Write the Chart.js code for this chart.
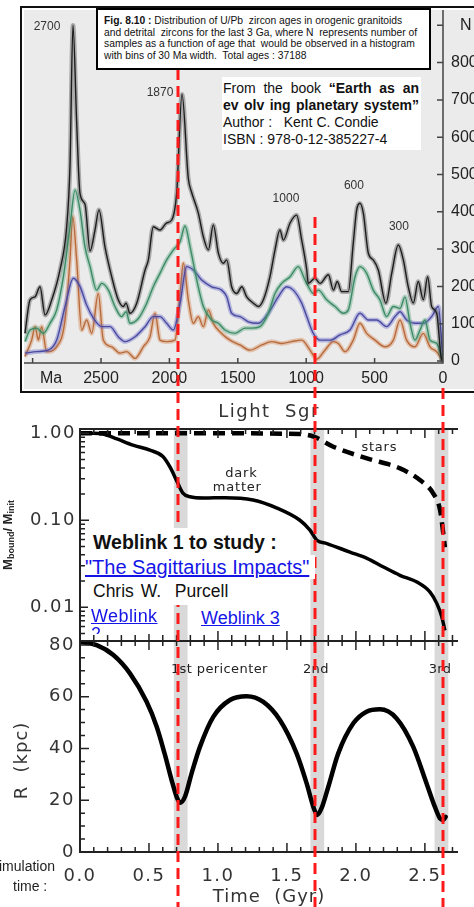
<!DOCTYPE html>
<html><head><meta charset="utf-8">
<script src="https://cdn.jsdelivr.net/npm/chart.js@4.4.1/dist/chart.umd.min.js"></script>
<style>
html,body{margin:0;padding:0;background:#fff;}
body{width:474px;height:907px;overflow:hidden;position:relative;font-family:"Liberation Sans",Arial,sans-serif;}
.a{position:absolute;}
#frame{left:20px;top:6px;width:470px;height:383px;border:2px solid #111;background:#ebebeb;box-shadow:inset 0 0 0 2px #fff;z-index:1;}
#c1{position:absolute;left:0;top:0;}
#c2{left:0;top:395px;z-index:2;}
#c3{left:0;top:628px;z-index:2;}
#ov{left:0;top:0;z-index:5;pointer-events:none;}
#caption{left:96px;top:8px;width:335px;height:62px;box-sizing:border-box;border:2px solid #000;background:#fff;z-index:10;
  font-size:10.3px;line-height:11.5px;color:#111;padding:5px 0 0 6px;white-space:nowrap;overflow:hidden;}
#book{left:222px;top:77px;width:199px;height:73px;background:#fff;z-index:10;font-size:14px;line-height:17px;color:#111;padding:3px 2px 0 1px;box-sizing:border-box;}
#book .j{text-align:justify;text-align-last:justify;white-space:nowrap;}
.wb{background:#fff;z-index:10;white-space:nowrap;box-sizing:border-box;}
.lnk{color:#1515e8;text-decoration:underline;}
#ytitle{left:-42px;top:527px;width:100px;height:16px;transform:rotate(-90deg);text-align:center;font-weight:bold;font-size:13px;line-height:16px;color:#222;z-index:10;white-space:nowrap;}
#ytitle sub{font-size:9px;vertical-align:-2px;}
.sim{font-size:14px;line-height:20px;color:#222;z-index:10;white-space:nowrap;}
</style></head><body>

<div id="frame" class="a"><canvas id="c1" width="452" height="383"></canvas></div>
<canvas id="c2" class="a" width="474" height="245"></canvas>
<canvas id="c3" class="a" width="474" height="279"></canvas>
<canvas id="ov" class="a" width="474" height="907"></canvas>

<div id="caption" class="a"><b>Fig. 8.10 :</b> Distribution of U/Pb&nbsp; zircon ages in orogenic granitoids<br>and detrital&nbsp; zircons for the last 3 Ga, where N&nbsp; represents number of<br>samples as a function of age that&nbsp; would be observed in a histogram<br>with bins of 30 Ma width.&nbsp; Total ages : 37188</div>

<div id="book" class="a">
  <div class="j">From the book <b>“Earth as an</b></div>
  <div class="j"><b>ev olv ing planetary system”</b></div>
  <div>Author :&nbsp;&nbsp; Kent C. Condie</div>
  <div>ISBN : 978-0-12-385227-4</div>
</div>

<div class="a wb" style="left:85px;top:528px;width:205px;height:27px;padding-left:8px;font-weight:bold;font-size:19.5px;line-height:29px;color:#111;">Weblink 1 to study :</div>
<div class="a wb lnk" style="left:85px;top:555px;width:230px;height:24px;font-size:20px;line-height:24px;letter-spacing:0px;">"The Sagittarius Impacts"</div>
<div class="a wb" style="left:85px;top:579px;width:200px;height:26px;padding-left:8px;font-size:17.5px;line-height:24px;color:#111;word-spacing:2px;">Chris W.&nbsp; Purcell</div>
<div class="a wb lnk" style="left:88px;top:605px;width:76px;height:29px;overflow:hidden;white-space:normal;padding:2px 0 0 3px;font-size:18px;line-height:18px;letter-spacing:0.4px;">Weblink 2</div>
<div class="a wb lnk" style="left:198px;top:605px;width:88px;height:25px;padding:2px 0 0 3px;font-size:18px;line-height:22px;">Weblink 3</div>

<div id="ytitle" class="a">M<sub>bound</sub>/ M<sub>init</sub></div>
<div class="a sim" style="right:419px;top:856px;">Simulation</div>
<div class="a sim" style="left:13px;top:876px;">time :</div>

<script>
// ===== Top panel: U/Pb zircon age distribution (age in Ma, N) =====
const totalAges = [3056,3019,2982,2946,2909,2860,2800,2751,2727,2705,2678,2654,2617,2580,2544,2515,2471,2422,2374,2337,2317,2288,2239,2178,2154,2118,2069,2020,1983,1947,1908,1862,1840,1789,1752,1715,1679,1642,1606,1581,1545,1508,1471,1435,1386,1350,1313,1265,1228,1192,1167,1118,1070,1033,996,985,936,899,838,801,773,741,692,656,631,607,582,546,510,473,417,375,327,290,254,217,181,144,112,83,46,10,0];
const totalN    = [74,164,172,199,123,164,244,360,520,900,640,450,420,295,351,405,306,226,164,146,155,128,155,244,271,360,351,370,378,450,715,490,455,397,333,298,365,289,262,271,199,181,199,172,155,146,164,226,298,351,324,370,391,324,244,208,222,208,231,190,213,186,186,316,405,423,396,289,271,244,155,235,311,271,199,155,213,164,226,146,128,3,0];

const greenAges = [3056,3019,2970,2922,2873,2824,2775,2727,2690,2654,2617,2580,2532,2495,2446,2398,2349,2317,2288,2227,2166,2118,2069,2020,1971,1922,1886,1849,1800,1752,1691,1642,1594,1520,1447,1398,1338,1277,1228,1179,1118,1058,1009,985,948,911,850,789,729,692,643,607,558,510,461,412,363,314,278,241,205,168,132,95,46,0];
const greenN    = [52,83,88,74,101,137,226,360,458,405,306,253,190,208,190,146,119,132,101,114,155,199,235,271,298,320,362,306,217,146,110,101,83,74,88,88,92,128,181,208,226,253,217,200,181,190,164,146,128,137,226,253,235,190,164,119,146,141,172,101,56,83,110,56,47,0];

const blueAges = [3056,2970,2885,2824,2763,2702,2654,2605,2556,2495,2434,2374,2325,2251,2178,2118,2069,2020,1971,1922,1874,1825,1764,1691,1618,1581,1545,1484,1423,1350,1277,1204,1143,1094,1033,996,948,899,826,753,680,607,546,485,412,351,314,266,205,144,83,34,0];
const blueN    = [21,25,29,56,146,222,200,150,115,92,92,65,52,65,92,119,119,101,83,155,253,244,217,199,190,172,128,119,105,101,128,172,199,190,155,119,74,56,56,70,83,128,110,110,92,119,132,110,101,101,119,146,0];

const orangeAges = [3056,3007,2982,2958,2934,2897,2824,2763,2727,2707,2678,2641,2605,2568,2520,2483,2422,2361,2313,2251,2191,2142,2105,2069,2020,1959,1922,1898,1862,1825,1789,1752,1715,1679,1618,1557,1484,1411,1325,1252,1179,1106,1033,972,923,863,801,765,716,656,607,558,497,424,363,314,266,205,144,95,46,0];
const orangeN    = [12,56,92,56,92,25,38,110,271,387,271,83,110,74,181,56,38,21,25,7,38,65,128,56,52,56,181,262,164,101,119,92,137,101,74,56,43,29,43,52,47,52,56,29,5,29,52,47,25,56,101,74,56,38,56,110,56,38,74,38,25,0];

const ageTicks = [3000,2500,2000,1500,1000,500,0];
const nTicks = [0,100,200,300,400,500,600,700,800,900];
const peakLabelText = ['2700','1870','1000','600','300'];
const peakLabelAge  = [2895,2069,1148,651,322];
const peakLabelN    = [895,718,434,469,359];

// ===== Lower panels: Sagittarius simulation (time in Gyr) =====
const dmTime = [0,0.10,0.167,0.268,0.384,0.507,0.601,0.652,0.703,0.746,0.797,0.90,1.05,1.254,1.428,1.594,1.667,1.717,1.79,1.957,2.08,2.196,2.319,2.442,2.536,2.587,2.623,2.645];
const dmMass = [1.0,1.0,0.98,0.86,0.73,0.64,0.54,0.41,0.28,0.205,0.186,0.18,0.182,0.171,0.138,0.10,0.077,0.059,0.054,0.043,0.0365,0.0292,0.0233,0.0195,0.015,0.011,0.0077,0.0054];
const starTime = [0,0.5,1.0,1.594,1.70,1.836,2.08,2.32,2.464,2.56,2.61,2.633,2.645];
const starMass = [1.0,1.0,1.0,0.98,0.91,0.70,0.515,0.395,0.29,0.204,0.131,0.071,0.049];
const orbitTime = [0,0.121,0.242,0.362,0.483,0.556,0.616,0.664,0.70,0.725,0.761,0.809,0.870,0.966,1.087,1.208,1.329,1.449,1.570,1.643,1.691,1.720,1.751,1.80,1.872,1.981,2.077,2.174,2.295,2.415,2.512,2.572,2.609,2.633,2.65];
const orbitR    = [81.2,79.9,76.1,69.0,58.0,48.4,37.5,27.8,21.4,19.0,21.4,30.4,40.7,52.2,58.7,60.2,58.0,51.0,38.1,26.5,17.5,14.3,16.9,25.2,38.1,49.7,54.2,55.1,51.6,40.7,26.5,17.5,13.0,12.4,13.6];
const pericenterBands = [[0.68,0.78],[1.67,1.77],[2.57,2.67]];
const pericenterTimes = [0.71,1.70,2.63];
const pericenterLabels = ['1st pericenter','2nd','3rd'];
const pericenterLabelT = [1.01,1.71,2.61];
const timeTicks = [0,0.5,1.0,1.5,2.0,2.5];
const massTicks = [1,0.1,0.01];
const radiusTicks = [0,20,40,60,80];

const zip = (xs, ys) => xs.map((x, i) => ({x, y: ys[i]}));
Chart.defaults.font.family = '"DejaVu Sans", sans-serif';
const zeroPad = s => { s.paddingLeft = 0; s.paddingRight = 0; s.paddingTop = 0; s.paddingBottom = 0; };
const base = {responsive:false, animation:false, events:[], devicePixelRatio:1,
  plugins:{legend:{display:false}, tooltip:{enabled:false}}};

// ---------- top chart ----------
function ageSeries(ages, vals, core, band){
  const d = zip(ages, vals);
  return [
    {data:d, borderColor:core, borderWidth:1.4, pointRadius:0, cubicInterpolationMode:'monotone', fill:false},
    {data:d, borderColor:band, borderWidth:4.6, pointRadius:0, cubicInterpolationMode:'monotone', fill:false}
  ];
}
const topDecor = {
  id:'topDecor',
  afterDraw(chart){
    const {ctx, chartArea:a, scales:{x, y}} = chart;
    ctx.save();
    ctx.strokeStyle = '#444'; ctx.lineWidth = 1.5;
    ctx.beginPath();
    ctx.moveTo(a.left, a.bottom); ctx.lineTo(a.right, a.bottom);
    ctx.moveTo(a.right, a.top); ctx.lineTo(a.right, a.bottom + 0.75);
    ageTicks.forEach(v => { const p = x.getPixelForValue(v); ctx.moveTo(p, a.bottom); ctx.lineTo(p, a.bottom - 5); });
    nTicks.forEach(v => { const p = y.getPixelForValue(v); ctx.moveTo(a.right, p); ctx.lineTo(a.right - 6, p); });
    ctx.stroke();
    ctx.fillStyle = '#333'; ctx.font = '12px "Liberation Sans", Arial';
    ctx.textAlign = 'center'; ctx.textBaseline = 'middle';
    peakLabelText.forEach((t, i) => ctx.fillText(t, x.getPixelForValue(peakLabelAge[i]), y.getPixelForValue(peakLabelN[i])));
    ctx.font = '16px "Liberation Sans", Arial'; ctx.fillStyle = '#222';
    ctx.fillText('Ma', x.getPixelForValue(2865), a.bottom + 16);
    ctx.restore();
  }
};
new Chart(document.getElementById('c1'), {
  type:'line',
  data:{datasets:[
    ...ageSeries(totalAges, totalN, '#1c1c1c', 'rgba(40,40,40,0.33)'),
    ...ageSeries(greenAges, greenN, '#3d8a66', 'rgba(80,160,120,0.38)'),
    ...ageSeries(blueAges, blueN, '#4a4aa0', 'rgba(100,100,200,0.38)'),
    ...ageSeries(orangeAges, orangeN, '#b86a3a', 'rgba(210,130,80,0.38)')
  ]},
  options:{...base,
    layout:{padding:{left:2, top:2, right:0, bottom:0}},
    scales:{
      x:{type:'linear', reverse:true, min:0, max:3063,
        grid:{display:false, drawTicks:false}, border:{display:false},
        afterBuildTicks: s => { s.ticks = ageTicks.map(v => ({value:v})); },
        afterFit: s => { s.height = 28; zeroPad(s); },
        ticks:{autoSkip:false, maxRotation:0, padding:6, color:'#222',
          font:{family:'"Liberation Sans", Arial', size:16},
          callback: v => v === 3000 ? '' : String(v)}},
      y:{type:'linear', position:'right', min:-5.4, max:941,
        grid:{display:false, drawTicks:false}, border:{display:false},
        afterBuildTicks: s => { s.ticks = nTicks.map(v => ({value:v})); },
        afterFit: s => { s.width = 31; zeroPad(s); },
        ticks:{autoSkip:false, padding:8, color:'#222',
          font:{family:'"Liberation Sans", Arial', size:16},
          callback: v => v === 900 ? '  N' : String(v)}}
    }},
  plugins:[topDecor]
});

// ---------- lower charts ----------
function sgrDecor(kind){
  return {
    id:'sgrDecor',
    beforeDraw(chart){ chart.ctx.letterSpacing = '1.5px'; },
    beforeDatasetsDraw(chart){
      const {ctx, chartArea:a, scales:{x}} = chart;
      ctx.save(); ctx.fillStyle = '#d9d9d9';
      pericenterBands.forEach(b => { const l = x.getPixelForValue(b[0]), r = x.getPixelForValue(b[1]); ctx.fillRect(l, a.top, r - l, a.bottom - a.top); });
      ctx.restore();
    },
    afterDraw(chart){
      const {ctx, chartArea:a, scales:{x, y}} = chart;
      ctx.save();
      ctx.strokeStyle = '#222'; ctx.lineWidth = 2;
      ctx.beginPath();
      ctx.moveTo(a.right, a.top); ctx.lineTo(a.left, a.top); ctx.lineTo(a.left, a.bottom);
      if (kind === 'radius') ctx.lineTo(a.right, a.bottom);
      ctx.stroke();
      ctx.lineWidth = 1.5; ctx.beginPath();
      for (let k = 0; k <= 27; k++) {
        const p = x.getPixelForValue(k / 10), len = k % 5 === 0 ? 9 : 5;
        ctx.moveTo(p, a.top); ctx.lineTo(p, a.top + len);
        ctx.moveTo(p, a.bottom); ctx.lineTo(p, a.bottom - len);
      }
      if (kind === 'mass') {
        for (let d = -3; d <= 0; d++) for (let m = 1; m <= 9; m++) {
          const v = m * Math.pow(10, d);
          if (v < y.min || v > y.max) continue;
          const p = y.getPixelForValue(v), len = m === 1 ? 9 : 5;
          ctx.moveTo(a.left, p); ctx.lineTo(a.left + len, p);
        }
      } else {
        for (let r = 0; r <= 80; r += 5) {
          const p = y.getPixelForValue(r), len = r % 20 === 0 ? 9 : 5;
          ctx.moveTo(a.left, p); ctx.lineTo(a.left + len, p);
        }
      }
      ctx.stroke();
      ctx.textAlign = 'center'; ctx.textBaseline = 'middle';
      const cx = (a.left + a.right) / 2;
      if (kind === 'mass') {
        ctx.fillStyle = '#333'; ctx.font = '18px "DejaVu Sans"'; ctx.letterSpacing = '1.5px';
        ctx.fillText('Light  Sgr', cx, a.top - 17);
        ctx.fillStyle = '#222'; ctx.font = '13px "DejaVu Sans"'; ctx.letterSpacing = '0.8px';
        ctx.fillText('stars', x.getPixelForValue(2.17), y.getPixelForValue(0.677));
        ctx.fillText('dark', x.getPixelForValue(1.17), y.getPixelForValue(0.34));
        ctx.fillText('matter', x.getPixelForValue(1.14), y.getPixelForValue(0.235));
      } else {
        ctx.fillStyle = '#222'; ctx.font = '13px "DejaVu Sans"'; ctx.letterSpacing = '0.4px';
        pericenterLabels.forEach((t, i) => ctx.fillText(t, x.getPixelForValue(pericenterLabelT[i]), y.getPixelForValue(70.3)));
        ctx.fillStyle = '#333'; ctx.font = '18px "DejaVu Sans"'; ctx.letterSpacing = '1px';
        ctx.fillText('Time  (Gyr)', cx, a.bottom + 45);
        ctx.save(); ctx.translate(22, (a.top + a.bottom) / 2 + 14); ctx.rotate(-Math.PI / 2);
        ctx.fillText('R  (kpc)', 0, 0); ctx.restore();
      }
      ctx.restore();
    }
  };
}
const tickFont = {family:'"DejaVu Sans"', size:18};

new Chart(document.getElementById('c2'), {
  type:'line',
  data:{datasets:[
    {data:zip(dmTime, dmMass), borderColor:'#000', borderWidth:3.5, pointRadius:0, cubicInterpolationMode:'monotone'},
    {data:zip(starTime, starMass), borderColor:'#000', borderWidth:4.5, borderDash:[12,7], borderCapStyle:'butt', pointRadius:0, cubicInterpolationMode:'monotone'}
  ]},
  options:{...base,
    layout:{padding:{left:0, top:34, right:16, bottom:0}},
    scales:{
      x:{type:'linear', min:0, max:2.74, display:false},
      y:{type:'logarithmic', position:'left', min:0.0042, max:1.12,
        grid:{display:false, drawTicks:false}, border:{display:false},
        afterBuildTicks: s => { s.ticks = massTicks.map(v => ({value:v})); },
        afterFit: s => { s.width = 80; zeroPad(s); },
        ticks:{autoSkip:false, padding:4, color:'#333', font:tickFont, callback: v => Number(v).toFixed(2)}}
    }},
  plugins:[sgrDecor('mass')]
});

const bottomChart = new Chart(document.getElementById('c3'), {
  type:'line',
  data:{datasets:[
    {data:zip(orbitTime, orbitR), borderColor:'#000', borderWidth:4.5, pointRadius:0, cubicInterpolationMode:'monotone', borderCapStyle:'round', borderJoinStyle:'round'}
  ]},
  options:{...base,
    layout:{padding:{left:0, top:13, right:16, bottom:0}},
    scales:{
      x:{type:'linear', min:0, max:2.74,
        grid:{display:false, drawTicks:false}, border:{display:false},
        afterBuildTicks: s => { s.ticks = timeTicks.map(v => ({value:v})); },
        afterFit: s => { s.height = 55; zeroPad(s); },
        ticks:{autoSkip:false, maxRotation:0, padding:14, color:'#333', font:tickFont, callback: v => Number(v).toFixed(1)}},
      y:{type:'linear', position:'left', min:0, max:81.5,
        grid:{display:false, drawTicks:false}, border:{display:false},
        afterBuildTicks: s => { s.ticks = radiusTicks.map(v => ({value:v})); },
        afterFit: s => { s.width = 80; zeroPad(s); },
        ticks:{autoSkip:false, padding:5, color:'#333', font:tickFont, callback: v => String(v)}}
    }},
  plugins:[sgrDecor('radius')]
});

// ---------- red dashed pericenter markers across the whole page ----------
(function(){
  const ov = document.getElementById('ov').getContext('2d');
  const starts = [69, 217, 388];
  ov.strokeStyle = '#ff1a1a'; ov.lineWidth = 3; ov.setLineDash([11, 6]);
  pericenterTimes.forEach((t, i) => {
    const px = Math.round(bottomChart.scales.x.getPixelForValue(t));
    ov.beginPath(); ov.moveTo(px, starts[i]); ov.lineTo(px, 907); ov.stroke();
  });
})();
</script>
</body></html>
